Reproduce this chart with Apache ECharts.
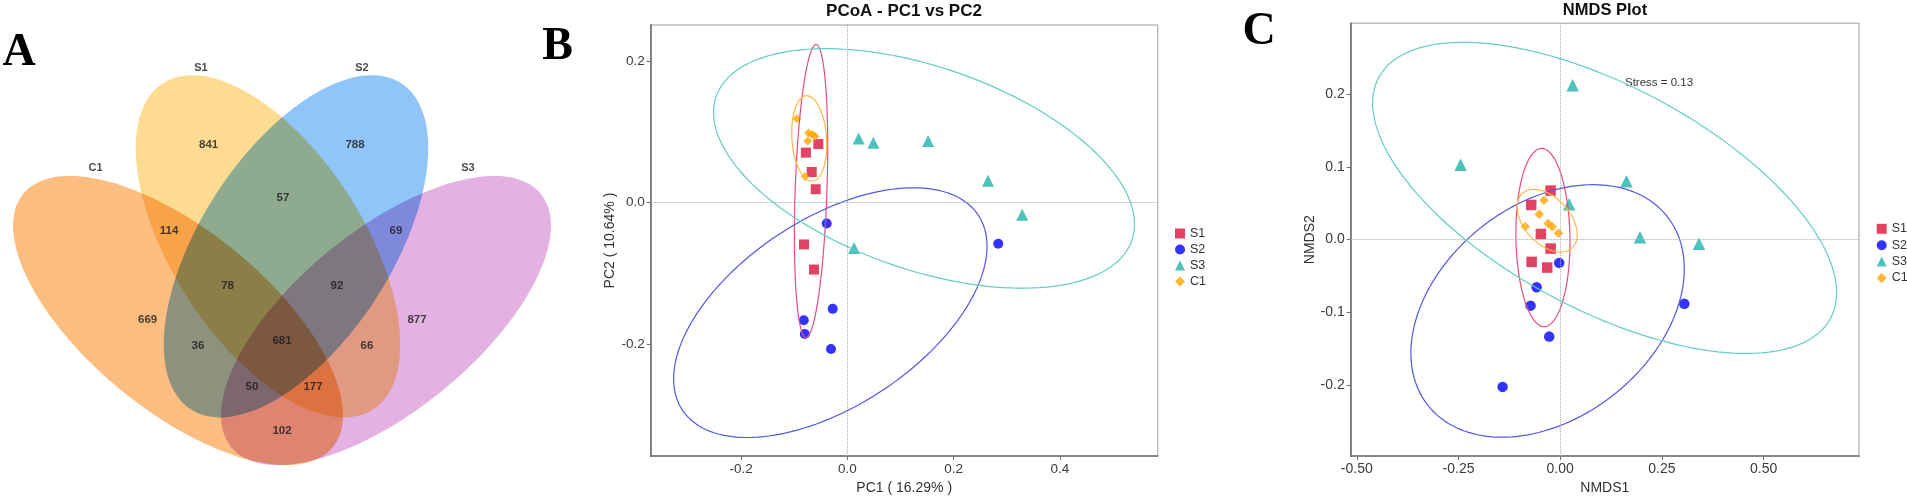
<!DOCTYPE html>
<html>
<head>
<meta charset="UTF-8">
<title>Venn / PCoA / NMDS</title>
<script src="https://cdn.jsdelivr.net/npm/echarts@6/dist/echarts.min.js"></script>
<style>
  html, body { margin: 0; padding: 0; background: #fff; }
  #main { width: 1907px; height: 500px; }
</style>
</head>
<body>
<div id="main"></div>
<script>
// 分组
var groups = ['S1', 'S2', 'S3', 'C1'];

// A: Venn 各区域计数
var vennSets = ['C1', 'S1', 'S2', 'S3'];
var vennRegions = ['S1', 'S2', 'S1&S2', 'C1&S1', 'S2&S3', 'C1&S1&S2', 'S1&S2&S3', 'C1', 'S3',
  'C1&S1&S2&S3', 'C1&S2', 'S1&S3', 'C1&S2&S3', 'C1&S1&S3', 'C1&S3'];
var vennCounts = [841, 788, 57, 114, 69, 78, 92, 669, 877, 681, 36, 66, 50, 177, 102];

// B: PCoA 样本坐标 (PC1, PC2)
var pcoaS1 = [[-0.0545, 0.0828], [-0.078, 0.0707], [-0.067, 0.0433], [-0.0595, 0.019], [-0.0815, -0.059], [-0.0627, -0.0945]];
var pcoaS2 = [[-0.0388, -0.0293], [-0.0275, -0.150], [-0.082, -0.166], [-0.080, -0.1856], [-0.0307, -0.2066], [0.284, -0.058]];
var pcoaS3 = [[0.0214, 0.0907], [0.049, 0.0847], [0.152, 0.087], [0.2647, 0.031], [0.329, -0.0172], [0.0126, -0.064]];
var pcoaC1 = [[-0.095, 0.1186], [-0.073, 0.0986], [-0.066, 0.0963], [-0.061, 0.094], [-0.0745, 0.087], [-0.0796, 0.037]];
// 置信椭圆: 中心, 半轴向量 u, 半轴向量 v (数据单位)
var pcoaEllipses = [
  [-0.0683, 0.0163, 0.0095, 0.2070, 0.0299, -0.00075],
  [-0.032, -0.1553, 0.2777, 0.1384, 0.0991, -0.1094],
  [0.1443, 0.0484, 0.3909, -0.1021, -0.0641, -0.1349],
  [-0.0717, 0.0907, 0.00555, -0.0604, -0.0325, -0.00164]
];
var pcoaXTicks = [-0.2, 0, 0.2, 0.4];
var pcoaYTicks = [-0.2, 0, 0.2];

// C: NMDS 样本坐标
var nmdsS1 = [[-0.0236, 0.0673], [-0.0713, 0.0475], [-0.0475, 0.0076], [-0.0236, -0.0125], [-0.0703, -0.0308], [-0.032, -0.0386]];
var nmdsS2 = [[-0.0025, -0.0322], [-0.058, -0.0657], [-0.0728, -0.091], [-0.027, -0.1336], [-0.1416, -0.2028], [0.305, -0.0883]];
var nmdsS3 = [[0.0305, 0.2122], [-0.245, 0.1027], [0.163, 0.0801], [0.022, 0.0483], [0.196, 0.003], [0.341, -0.006]];
var nmdsC1 = [[-0.040, 0.0538], [-0.0516, 0.0348], [-0.086, 0.018], [-0.0295, 0.0221], [-0.0197, 0.0176], [-0.004, 0.0086]];
var nmdsEllipses = [
  [-0.0425, 0.0027, 0.0035, -0.1226, -0.0664, -0.00058],
  [-0.031, -0.0983, 0.2911, 0.1320, 0.1679, -0.1129],
  [0.1092, 0.0572, 0.5547, -0.1663, -0.1325, -0.1347],
  [-0.032, 0.0258, 0.0604, -0.0378, -0.0424, -0.0207]
];
var nmdsXTicks = [-0.5, -0.25, 0, 0.25, 0.5];
var nmdsYTicks = [-0.2, -0.1, 0, 0.1, 0.2];
var stress = 0.13;

// 样式
var pointColors = ['#DC143C', '#0000FF', '#20B2AA', '#FFA500'];
var ringColors = ['#E4507A', '#5555E6', '#62CDC4', '#FFB940'];
var symbols = ['rect', 'circle', 'triangle', 'diamond'];
var pcoaSizes = [10, 10, 12, 9];
var nmdsSizes = [10.5, 10.5, 12.5, 9.5];
var vennColors = ['#FBBD80', '#FDDC92', '#8FC5F9', '#E3B2E2'];
// Venn 布局 (画布像素坐标)
var vennShapes = [
  [178, 320.5, 200, 90, 39.3],
  [268, 246.3, 194, 95.5, 57.2],
  [296, 246.3, 194, 95.5, 122.8],
  [386, 320.5, 200, 90, 140.7]
];
var vennLabelPos = [[208.6, 145], [355, 145], [283, 198.3], [169, 231], [396, 231], [227.6, 286], [337, 286],
  [147.6, 320], [417, 320], [282, 340.7], [198, 346], [367, 346], [252, 386.7], [313, 386.7], [282, 431]];
var vennNamePos = [[95.5, 168.3], [201, 68.3], [362, 68.3], [468, 168.3]];

var sans = '"Liberation Sans", Arial, sans-serif';

function vennItem(params, api) {
  var cx = api.value(0), cy = api.value(1), a = api.value(2), b = api.value(3);
  var ang = api.value(4) * Math.PI / 180;
  var pts = [];
  for (var i = 0; i < 160; i++) {
    var t = i / 160 * 2 * Math.PI;
    pts.push(api.coord([
      cx + a * Math.cos(t) * Math.cos(ang) - b * Math.sin(t) * Math.sin(ang),
      cy + a * Math.cos(t) * Math.sin(ang) + b * Math.sin(t) * Math.cos(ang)
    ]));
  }
  return {
    type: 'polygon',
    shape: { points: pts },
    style: { fill: vennColors[params.dataIndex] }
  };
}

function ringItem(params, api) {
  var cx = api.value(0), cy = api.value(1);
  var ux = api.value(2), uy = api.value(3), vx = api.value(4), vy = api.value(5);
  var g = api.value(6);
  var pts = [];
  for (var i = 0; i <= 160; i++) {
    var t = i / 160 * 2 * Math.PI;
    pts.push(api.coord([cx + ux * Math.cos(t) + vx * Math.sin(t), cy + uy * Math.cos(t) + vy * Math.sin(t)]));
  }
  return {
    type: 'polyline',
    shape: { points: pts },
    style: { stroke: ringColors[g], lineWidth: 1.2, fill: null }
  };
}

function valueAxis(idx, min, max, ticks, digits, name, gap, fs) {
  return {
    gridIndex: idx, type: 'value', min: min, max: max,
    name: name, nameLocation: 'middle', nameGap: gap,
    nameTextStyle: { color: '#333', fontSize: 14, fontFamily: sans },
    axisLine: { show: true, onZero: false, lineStyle: { color: '#6f6f6f', width: 1.6 } },
    axisTick: { show: true, length: 4, customValues: ticks, lineStyle: { color: '#6f6f6f' } },
    axisLabel: {
      customValues: ticks, margin: 6, color: '#3a3a3a', fontSize: fs, fontFamily: sans,
      formatter: function (v) { return (+v).toFixed(digits); }
    },
    splitLine: { show: false }
  };
}

var zeroLine = {
  silent: true, symbol: 'none', label: { show: false },
  lineStyle: { type: 'dotted', color: '#a8a8a8', width: 1 },
  data: [{ xAxis: 0 }, { yAxis: 0 }]
};

var series = [
  {
    type: 'custom', name: 'venn', xAxisIndex: 0, yAxisIndex: 0, blendMode: 'multiply',
    renderItem: vennItem, data: vennShapes, silent: true
  },
  {
    type: 'scatter', name: 'vennCount', xAxisIndex: 0, yAxisIndex: 0, symbolSize: 0, silent: true,
    data: vennLabelPos.map(function (p, i) { return [p[0], p[1], vennCounts[i]]; }),
    label: {
      show: true, position: 'inside', formatter: function (p) { return p.value[2]; },
      color: '#1a1a1a', fontSize: 11.5, fontWeight: 'bold', fontFamily: sans
    }
  },
  {
    type: 'scatter', name: 'vennName', xAxisIndex: 0, yAxisIndex: 0, symbolSize: 0, silent: true,
    data: vennNamePos.map(function (p, i) { return [p[0], p[1], vennSets[i]]; }),
    label: {
      show: true, position: 'inside', formatter: function (p) { return p.value[2]; },
      color: '#1a1a1a', fontSize: 11, fontWeight: 'bold', fontFamily: sans
    }
  },
  {
    type: 'custom', name: 'pcoaRing', xAxisIndex: 1, yAxisIndex: 1, silent: true,
    renderItem: ringItem, data: pcoaEllipses.map(function (e, i) { return e.concat(i); }), z: 3
  },
  {
    type: 'custom', name: 'nmdsRing', xAxisIndex: 2, yAxisIndex: 2, silent: true,
    renderItem: ringItem, data: nmdsEllipses.map(function (e, i) { return e.concat(i); }), z: 3
  }
];

var pcoaData = [pcoaS1, pcoaS2, pcoaS3, pcoaC1];
var nmdsData = [nmdsS1, nmdsS2, nmdsS3, nmdsC1];
groups.forEach(function (g, i) {
  series.push({
    type: 'scatter', name: g, xAxisIndex: 1, yAxisIndex: 1, data: pcoaData[i],
    symbol: symbols[i], symbolSize: pcoaSizes[i], itemStyle: { color: pointColors[i] }, z: 2,
    markLine: i === 0 ? zeroLine : undefined
  });
  series.push({
    type: 'scatter', name: g, xAxisIndex: 2, yAxisIndex: 2, data: nmdsData[i],
    symbol: symbols[i], symbolSize: nmdsSizes[i], itemStyle: { color: pointColors[i] }, z: 2,
    markLine: i === 0 ? zeroLine : undefined
  });
});

var chart = echarts.init(document.getElementById('main'));
chart.setOption({
  animation: false,
  backgroundColor: '#fff',
  grid: [
    { left: 0, top: 0, width: 560, height: 500 },
    { left: 650.7, top: 25, width: 507, height: 436.7, show: true, borderColor: '#bdbdbd', borderWidth: 1.5 },
    { left: 1350.7, top: 23.3, width: 508.3, height: 438.4, show: true, borderColor: '#bdbdbd', borderWidth: 1.5 }
  ],
  xAxis: [
    { gridIndex: 0, type: 'value', min: 0, max: 560, show: false },
    valueAxis(1, -0.37, 0.584, pcoaXTicks, 1, 'PC1 ( 16.29% )', 20, 13.5),
    valueAxis(2, -0.515, 0.7345, nmdsXTicks, 2, 'NMDS1', 20.5, 14)
  ],
  yAxis: [
    { gridIndex: 0, type: 'value', min: 0, max: 500, inverse: true, show: false },
    valueAxis(1, -0.358, 0.251, pcoaYTicks, 1, 'PC2 ( 10.64% )', 32, 13.5),
    valueAxis(2, -0.298, 0.2974, nmdsYTicks, 1, 'NMDS2', 33.5, 14)
  ],
  legend: [
    {
      data: groups, orient: 'vertical', left: 1170, top: 222, itemWidth: 10, itemHeight: 10, itemGap: 3,
      textStyle: { fontSize: 12.5, color: '#333', fontFamily: sans }, selectedMode: false
    },
    {
      data: groups, orient: 'vertical', left: 1871.7, top: 217.3, itemWidth: 10, itemHeight: 10, itemGap: 3.4,
      textStyle: { fontSize: 12.5, color: '#333', fontFamily: sans }, selectedMode: false
    }
  ],
  graphic: [
    { type: 'text', x: 19, y: 53, style: { text: 'A', font: 'bold 46px "Liberation Serif", serif', fill: '#000', align: 'center', verticalAlign: 'middle' } },
    { type: 'text', x: 557.5, y: 47.5, style: { text: 'B', font: 'bold 46px "Liberation Serif", serif', fill: '#000', align: 'center', verticalAlign: 'middle' } },
    { type: 'text', x: 1259, y: 32.5, style: { text: 'C', font: 'bold 46px "Liberation Serif", serif', fill: '#000', align: 'center', verticalAlign: 'middle' } },
    { type: 'text', x: 904, y: 11.7, style: { text: 'PCoA - PC1 vs PC2', font: 'bold 17px ' + sans, fill: '#111', align: 'center', verticalAlign: 'middle' } },
    { type: 'text', x: 1605, y: 10.7, style: { text: 'NMDS Plot', font: 'bold 16.5px ' + sans, fill: '#111', align: 'center', verticalAlign: 'middle' } },
    { type: 'text', x: 1625, y: 82.7, style: { text: 'Stress = ' + stress.toFixed(2), font: '11.5px ' + sans, fill: '#333', align: 'left', verticalAlign: 'middle' } }
  ],
  series: series
});
</script>
</body>
</html>
